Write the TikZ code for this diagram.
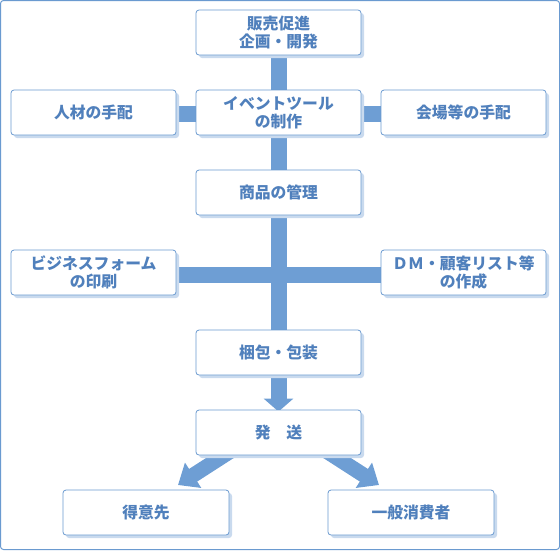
\documentclass[tikz,border=0pt]{standalone}
\usepackage{fontspec}
\newfontfamily\cjk{Noto Sans CJK JP}
\usetikzlibrary{shadows,backgrounds,arrows.meta}
\definecolor{framecol}{HTML}{6A9AD0}
\definecolor{boxline}{HTML}{6A9AD0}
\definecolor{txtcol}{HTML}{5080BC}
\definecolor{shadowcol}{HTML}{C9DAEE}
\definecolor{barcol}{HTML}{6E9ED4}
\begin{document}
\begin{tikzpicture}[x=1pt,y=-1pt,
  box/.style={draw=boxline, line width=0.8pt, fill=white, rounded corners=3pt,
    minimum width=165pt, minimum height=45pt, inner sep=0pt, align=center,
    text=txtcol, font=\cjk\bfseries\fontsize{15.8}{18}\selectfont,
    general shadow={fill=shadowcol, shadow xshift=3pt, shadow yshift=-3pt}},
  bar/.style={draw=barcol, line width=16pt},
  downarrow/.style={draw=barcol, fill=barcol, line width=16pt, -{Triangle[length=13pt,width=29pt]}},
  diagarrow/.style={draw=barcol, fill=barcol, line width=15pt, -{Triangle[length=18pt,width=29pt]}}]
\useasboundingbox (0,0) rectangle (560,550);
\draw[framecol, line width=1pt, rounded corners=3pt] (0.5,0.5) rectangle (559.5,549.5);

\node[box] (top) at (278.5,32.5) {販売促進\\企画・開発};
\node[box] (ev)  at (278.5,112.5) {イベントツール\\の制作};
\node[box] (jin) at (93.5,112.5) {人材の手配};
\node[box] (kai) at (463.5,112.5) {会場等の手配};
\node[box] (sho) at (278.5,192.5) {商品の管理};
\node[box] (biz) at (93.5,272.5) {ビジネスフォーム\\の印刷};
\node[box] (dm)  at (463.5,272.5) {ＤＭ・顧客リスト等\\の作成};
\node[box] (kon) at (278.5,352.5) {梱包・包装};
\node[box] (hat) at (278.5,432.5) {発　送};
\node[box, minimum width=166pt] (tok) at (146,512.5) {得意先};
\node[box, minimum width=166pt] (ipp) at (411,512.5) {一般消費者};

\coordinate (ls) at (235.6,447.9);
\coordinate (lt) at (178,485);
\coordinate (rs) at (321.4,447.9);
\coordinate (rt) at (379,485);

\begin{scope}[on background layer]
  \draw[bar] (top.south) -- (kon.north);
  \draw[bar] ([yshift=-1.5pt]jin.east) -- ([yshift=-1.5pt]kai.west);
  \draw[bar] ([yshift=-2pt]biz.east) -- ([yshift=-2pt]dm.west);
  \draw[downarrow] (kon.south) -- ([yshift=-2pt]hat.north);
  \draw[diagarrow] (ls) -- (lt);
  \draw[diagarrow] (rs) -- (rt);
\end{scope}
\end{tikzpicture}
\end{document}
